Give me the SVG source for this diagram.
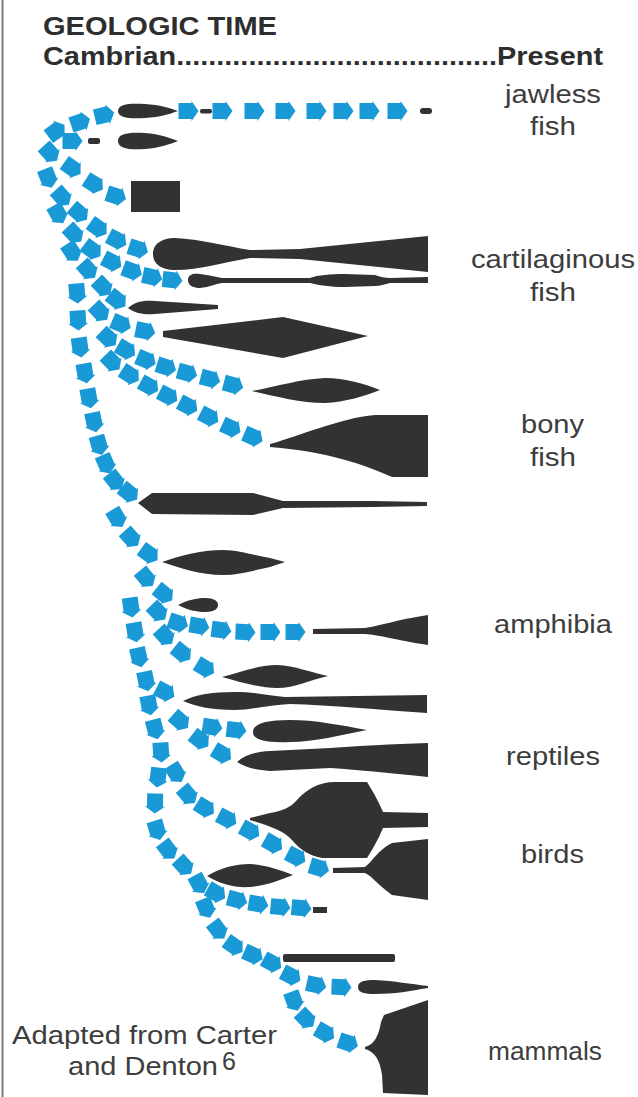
<svg xmlns="http://www.w3.org/2000/svg" width="638" height="1097" viewBox="0 0 638 1097">
<style>
.s{fill:#323232}
.t{font-family:"Liberation Sans",Arial,sans-serif;font-size:25px;fill:#3d3d3d}
.b{font-weight:bold;fill:#2e2e2e}
.c{fill:none;stroke:none;marker-mid:url(#ar)}
</style>
<defs>
<marker id="ar" viewBox="-12 -12 24 24" markerWidth="24" markerHeight="24" refX="0" refY="0" orient="auto" markerUnits="userSpaceOnUse">
<path d="M-9.5,-8 H3.5 V-10 L10.5,0 L3.5,10 V8 H-9.5 Z" fill="#1a99d7"/>
</marker>
</defs>
<rect width="638" height="1097" fill="#ffffff"/>
<line x1="2.5" y1="0" x2="2.5" y2="1097" stroke="#7a7a7a" stroke-width="2"/>

<g id="header">
<text class="t b" x="43" y="35" textLength="234" lengthAdjust="spacingAndGlyphs">GEOLOGIC TIME</text>
<text class="t b" x="43" y="65" textLength="560" lengthAdjust="spacingAndGlyphs">Cambrian........................................Present</text>
</g>

<g id="labels">
<text class="t" x="505" y="103" textLength="96" lengthAdjust="spacingAndGlyphs">jawless</text>
<text class="t" x="530" y="135" textLength="46" lengthAdjust="spacingAndGlyphs">fish</text>
<text class="t" x="471" y="268" textLength="164" lengthAdjust="spacingAndGlyphs">cartilaginous</text>
<text class="t" x="530" y="301" textLength="46" lengthAdjust="spacingAndGlyphs">fish</text>
<text class="t" x="521" y="433" textLength="63" lengthAdjust="spacingAndGlyphs">bony</text>
<text class="t" x="530" y="466" textLength="46" lengthAdjust="spacingAndGlyphs">fish</text>
<text class="t" x="494" y="633" textLength="118" lengthAdjust="spacingAndGlyphs">amphibia</text>
<text class="t" x="506" y="765" textLength="94" lengthAdjust="spacingAndGlyphs">reptiles</text>
<text class="t" x="521" y="863" textLength="63" lengthAdjust="spacingAndGlyphs">birds</text>
<text class="t" x="488" y="1060" textLength="114" lengthAdjust="spacingAndGlyphs">mammals</text>
<text class="t" x="12" y="1044" font-size="24" textLength="265" lengthAdjust="spacingAndGlyphs">Adapted from Carter</text>
<text class="t" x="68" y="1075" font-size="24" textLength="150" lengthAdjust="spacingAndGlyphs">and Denton</text>
<text class="t" x="222" y="1070" font-size="11">6</text>
</g>

<g id="jawless-1"><path class="s" d="M118,111 C118,104 130,103 145,104 C160,105 170,108 178,111 C170,114 160,117 145,118 C130,119 118,118 118,111 Z"/><rect class="s" x="200" y="109" width="12" height="4.5" rx="2"/><rect class="s" x="420" y="108" width="12" height="6" rx="3"/></g>
<g id="jawless-2"><rect class="s" x="88" y="138" width="12" height="6" rx="2"/><path class="s" d="M118,141 C118,133 130,132 145,133 C160,134 170,138 178,141 C170,144 160,148 145,149 C130,150 118,149 118,141 Z"/></g>
<g id="block"><rect class="s" x="131" y="181" width="49" height="31"/></g>
<g id="cartilaginous-1"><path class="s" d="M153,254 C153,243 163,238 175,238 C200,239 225,246 250,250 L300,249 L428,236 L428,272 L300,259 L250,258 C225,262 200,270 175,270 C163,270 153,265 153,254 Z"/></g>
<g id="cartilaginous-2"><path class="s" d="M188,280 C188,274 194,273 200,274 C210,275 215,277 222,278 L310,278 C318,275 330,274 345,274 L375,275 C380,277 385,278 390,278 L428,277 L428,283 L390,283 C385,284 380,286 375,286 L345,287 C330,287 318,285 310,283 L222,283 C215,284 210,287 200,288 C194,288 188,286 188,280 Z"/></g>
<g id="line-6"><path class="s" d="M128,308 C135,302 142,300 155,301 L218,305 L218,309 L155,314 C142,315 135,313 128,308 Z"/></g>
<g id="diamond-7"><path class="s" d="M163,331 L283,317 L368,336 L283,358 L163,337 Z"/></g>
<g id="spindle-8"><path class="s" d="M252,391 C275,387 300,379 325,378 C345,378 365,384 380,390 C365,396 345,402 325,403 C300,403 275,396 252,391 Z"/></g>
<g id="bony"><path class="s" d="M270,444 C300,436 340,418 375,415 L428,415 L428,477 L392,477 C365,465 330,452 270,447 Z"/></g>
<g id="line-10"><path class="s" d="M138,503 L152,493 L253,493 L283,501 L373,501 L427,502 L427,506 L373,507 L283,508 L253,515 L152,514 Z"/></g>
<g id="spindle-11"><path class="s" d="M162,562 C180,556 200,550 223,550 C240,550 255,556 270,558 L285,562 L270,567 C255,570 240,575 223,575 C200,575 180,568 162,562 Z"/></g>
<g id="blob-12"><path class="s" d="M178,605 C188,600 196,598 205,598 C214,598 218,601 218,605 C218,609 214,612 205,612 C196,612 188,610 178,605 Z"/></g>
<g id="amphibia"><path class="s" d="M313,629 L365,628 C380,626 395,620 428,615 L428,645 C395,640 380,635 365,634 L313,634 Z"/></g>
<g id="diamond-14"><path class="s" d="M222,677 C240,672 260,665 277,665 C295,666 310,672 328,676 C310,680 295,688 277,688 C260,688 240,682 222,677 Z"/></g>
<g id="reptile-15"><path class="s" d="M183,701 C195,695 210,692 235,692 C255,692 265,695 285,697 L427,695 L427,713 C380,710 330,705 290,704 C270,705 250,710 235,710 C210,710 195,706 183,701 Z"/></g>
<g id="reptile-16"><path class="s" d="M253,732 C253,724 265,720 290,720 C315,720 340,725 367,730 C340,735 315,742 290,742 C265,743 253,740 253,732 Z"/></g>
<g id="reptile-17"><path class="s" d="M237,762 C245,755 255,752 270,751 L330,748 C360,746 390,744 428,743 L428,777 C390,773 360,770 330,768 L270,771 C255,770 245,767 237,762 Z"/></g>
<g id="birds-1"><path class="s" d="M250,818 L270,813 C282,811 290,808 297,800 C306,790 318,782 335,782 L367,782 C372,790 378,800 383,812 L428,813 L428,827 L383,828 C378,840 372,850 367,858 L322,858 C310,856 300,850 292,840 C284,831 270,826 250,820 Z"/></g>
<g id="birds-2"><path class="s" d="M333,868 L365,867 C372,862 378,850 392,843 L428,839 L428,900 L392,895 C378,885 372,876 365,873 L333,873 Z"/></g>
<g id="lens-20"><path class="s" d="M207,876 C220,868 235,864 250,864 C265,865 280,870 293,875 C280,880 265,886 250,887 C235,888 220,884 207,876 Z"/></g>
<g id="dash-21"><rect class="s" x="313" y="907" width="14" height="6"/></g>
<g id="bar-22"><rect class="s" x="283" y="954" width="112" height="8" rx="2"/></g>
<g id="spindle-23"><path class="s" d="M358,987 C358,981 365,980 375,980 C395,981 410,984 428,986 L428,988 C410,991 395,994 375,994 C365,994 358,993 358,987 Z"/></g>
<g id="mammals"><path class="s" d="M365,1047 C372,1045 378,1040 381,1022 L384,1015 L428,1000 L428,1095 L383,1093 L382,1075 C380,1060 375,1052 365,1049 Z"/></g>

<g id="connectors">
<polyline class="c" points="45,145 56,131 80,122 104,115 125,111"/>
<polyline class="c" points="170,111 188,111 222,111 254,111 285,111 316,111 343,111 369,111 397,111 430,111"/>
<polyline class="c" points="55,141 72,141 90,141"/>
<polyline class="c" points="42,138 50,153 72,168 94,184 116,196 135,198"/>
<polyline class="c" points="46,160 48,178 62,197 79,213 98,228 117,240 138,249 155,253"/>
<polyline class="c" points="52,198 58,214 74,234 92,250 112,262 132,271 152,277 172,280 190,281"/>
<polyline class="c" points="64,235 72,252 88,270 103,287 117,300 128,307"/>
<polyline class="c" points="92,296 100,312 121,324 145,331 163,333"/>
<polyline class="c" points="96,322 108,338 126,350 146,360 166,367 187,373 210,379 233,385 252,390"/>
<polyline class="c" points="100,345 112,362 130,375 149,386 168,396 188,406 209,417 231,428 253,437 270,445"/>
<polyline class="c" points="74,270 77,293 78,320 80,347 85,373 89,398 94,422 99,445 106,464 115,481 129,493 142,503"/>
<polyline class="c" points="108,500 117,518 131,538 149,554 163,562"/>
<polyline class="c" points="135,560 146,578 164,594 179,605"/>
<polyline class="c" points="128,583 131,607 135,632 139,657 146,681 149,705 155,729 161,752 158,777 155,803 157,830 168,850 184,866 199,884 206,908 218,930 234,946 253,955 272,963 291,976 316,985 341,987 358,987"/>
<polyline class="c" points="184,866 216,893 237,900 258,904 280,907 301,908 316,910"/>
<polyline class="c" points="291,976 294,1001 306,1019 325,1033 348,1043 365,1047"/>
<polyline class="c" points="161,752 176,773 188,795 205,808 227,819 250,831 273,844 296,857 319,868 333,870"/>
<polyline class="c" points="150,596 158,612 178,623 199,626 221,630 245,632 270,632 295,632 312,632"/>
<polyline class="c" points="150,618 165,636 182,653 205,668 222,677"/>
<polyline class="c" points="146,681 165,692 183,700"/>
<polyline class="c" points="180,721 212,727 236,730 253,732"/>
<polyline class="c" points="162,706 180,721 200,740 222,754 237,762"/>
</g>
</svg>
